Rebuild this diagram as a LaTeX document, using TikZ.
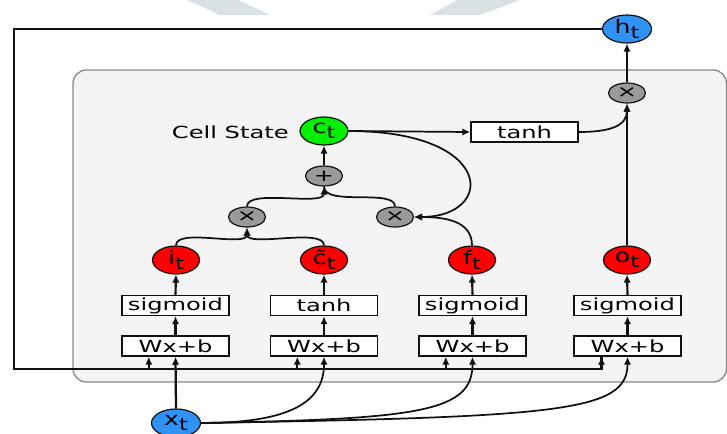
\documentclass[tikz,border=0pt]{standalone}
\usepackage{fontspec}
\setmainfont{DejaVu Sans}
\usepackage{graphicx}
\usetikzlibrary{arrows.meta,shapes.geometric}
\definecolor{linec}{HTML}{111111}
\definecolor{boxf}{HTML}{F4F4F4}
\definecolor{boxd}{HTML}{8A8A8A}
\definecolor{wm}{HTML}{DAE1E5}
\definecolor{gatered}{HTML}{FF0000}
\definecolor{cellgreen}{HTML}{00F000}
\definecolor{outblue}{HTML}{3092F5}
\definecolor{opgray}{HTML}{9A9A9A}
\newcommand\sx[1]{\scalebox{1.45}[1]{#1}}
\newcommand\lb[2]{\scalebox{1.35}[1]{\fontsize{14}{14}\selectfont #1\raisebox{-0.45ex}{\fontsize{12.5}{12.5}\selectfont #2}}}
\begin{document}
\begin{tikzpicture}[x=0.75pt,y=-0.75pt,
  font=\fontsize{12.5}{14}\selectfont,
  conn/.style={line width=1.3pt, draw=linec},
  arr/.style={conn,-{Latex[length=6pt,width=5.5pt]}},
  fbline/.style={line width=1.8pt, draw=linec},
  opbox/.style={draw=linec, line width=1.1pt, fill=white, inner sep=0pt,
                minimum width=80.25pt, minimum height=15pt},
  gate/.style={ellipse, draw=linec, line width=0.9pt, fill=gatered, inner sep=0pt,
               minimum width=35.25pt, minimum height=21pt},
  cell/.style={gate, fill=cellgreen, minimum width=36pt},
  io/.style={gate, fill=outblue, minimum width=36.75pt},
  op/.style={ellipse, draw=linec, line width=0.9pt, fill=opgray, inner sep=0pt,
             minimum width=27.75pt, minimum height=15pt}]
\useasboundingbox (0,0) rectangle (727,433);
% faint background marks
\fill[wm] (187,0) -- (238,0) -- (270,15) -- (220,15) -- cycle;
\fill[wm] (457,0) -- (520,0) -- (480,15) -- (430,15) -- cycle;
% cell box
\draw[draw=boxd, fill=boxf, line width=1pt, rounded corners=10pt] (73,70) rectangle (726.5,382);

% lower layer
\node[opbox] (wx1) at (175.5,346) {\sx{Wx+b}};
\node[opbox] (wx2) at (324,346) {\sx{Wx+b}};
\node[opbox] (wx3) at (472.5,346) {\sx{Wx+b}};
\node[opbox] (wx4) at (627.5,346) {\sx{Wx+b}};
\node[opbox] (sg1) at (175.5,305.5) {\sx{sigmoid}};
\node[opbox] (th1) at (324,305.5) {\sx{tanh}};
\node[opbox] (sg3) at (472.5,305.5) {\sx{sigmoid}};
\node[opbox] (sg4) at (627.5,305.5) {\sx{sigmoid}};
\node[gate] (it) at (176,260) {\lb{i}{t}};
\node[gate] (ctil) at (324,260) {\lb{c̃}{t}};
\node[gate] (ft) at (472,260) {\lb{f}{t}};
\node[gate] (ot) at (627,260) {\lb{o}{t}};
\node[op] (m1) at (247,217) {\sx{×}};
\node[op] (m2) at (395,217) {\sx{×}};
\node[op] (pl) at (324,176) {\sx{+}};
\node[cell] (ct) at (324,131) {\lb{c}{t}};
\node[anchor=east, inner sep=0pt] (cs) at (289,132) {\sx{Cell State}};
\node[opbox] (th2) at (524.5,132) {\sx{tanh}};
\node[op] (mo) at (627,93) {\sx{×}};
\node[io] (ht) at (627,29) {\lb{h}{t}};
\node[io] (xt) at (176,423) {\lb{x}{t}};

% feedback of h_t
\coordinate (fbl) at (14,369);
\coordinate (in1) at ([xshift=-20pt]wx1.south);
\coordinate (in2) at ([xshift=-20pt]wx2.south);
\coordinate (in3) at ([xshift=-20pt]wx3.south);
\coordinate (in4) at ([xshift=-19.5pt]wx4.south);
\draw[fbline] (ht.west) -| (fbl) -| ([yshift=1pt]in4);
\draw[arr] (in4 |- fbl) -- (in4);
\draw[arr] (in1 |- fbl) -- (in1);
\draw[arr] (in2 |- fbl) -- (in2);
\draw[arr] (in3 |- fbl) -- (in3);

% x_t inputs
\draw[arr, line width=1.7pt] (xt.north) -- (wx1.south);
\draw[arr] (xt.east) .. controls +(90,0) and +(0,45) .. (wx2.south);
\draw[arr] (xt.east) .. controls +(220,-4) and +(0,55) .. (wx3.south);
\draw[arr] (xt.east) .. controls +(360,-6) and +(0,55) .. (wx4.south);

% gates
\foreach \a/\b in {wx1/sg1, wx2/th1, wx3/sg3, wx4/sg4, sg1/it, th1/ctil, sg3/ft, sg4/ot}
  \draw[arr, line width=1.6pt] (\a.north) -- (\b.south);

% multiplications and sum
\draw[arr] (it.north) .. controls +(0,-18) and +(0,20) .. (m1.south);
\draw[arr] (ctil.north) .. controls +(0,-18) and +(0,20) .. (m1.south);
\draw[arr] (m1.north) .. controls +(0,-18) and +(0,20) .. (pl.south);
\draw[conn] (m2.north) .. controls +(0,-18) and +(0,20) .. (pl.south);
\draw[arr, line width=1.6pt] (pl.north) -- (ct.south);
\draw[arr] (ft.north) .. controls +(0,-25) and +(30,0) .. (m2.east);
\draw[arr] (ct.east) .. controls (496,131) and (496,217) .. (m2.east);
\draw[arr] (ct.east) -- (th2.west);
\draw[arr] (th2.east) .. controls +(32,0) and +(0,22) .. (mo.south);
\draw[arr, line width=1.6pt] (ot.north) -- (mo.south);
\draw[arr, line width=1.6pt] (mo.north) -- (ht.south);
\end{tikzpicture}
\end{document}
